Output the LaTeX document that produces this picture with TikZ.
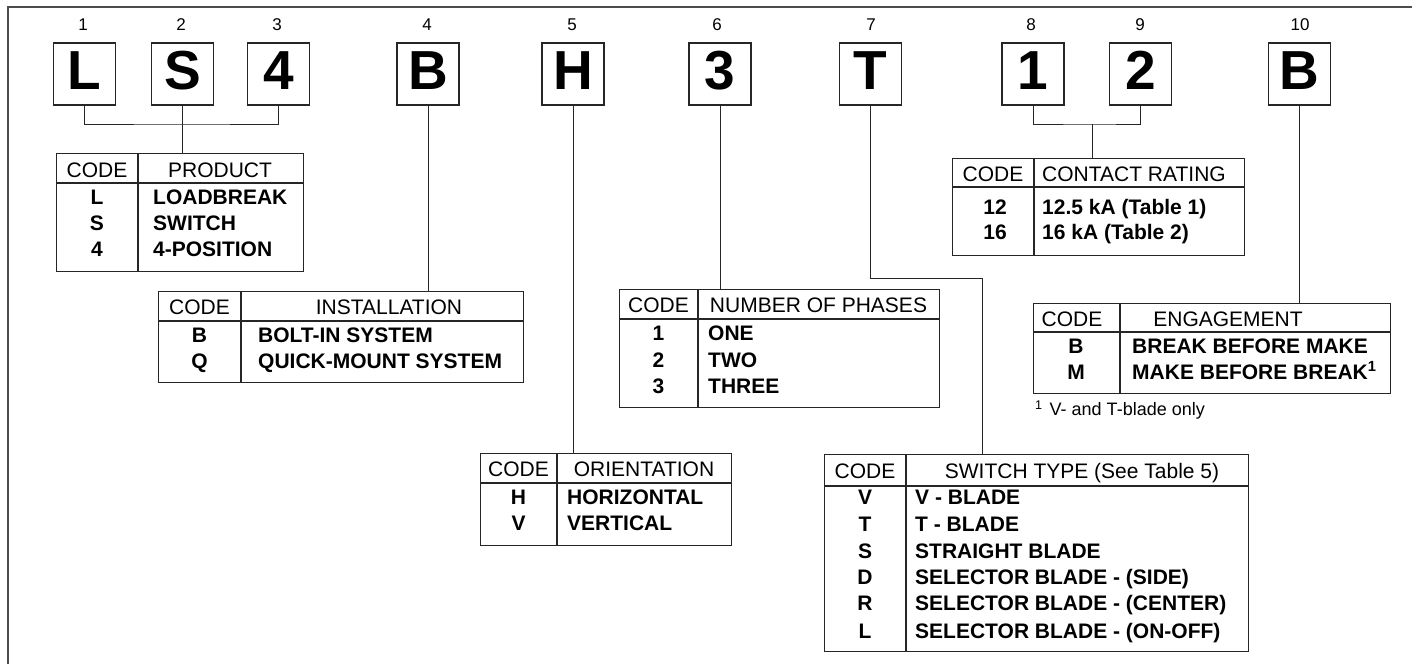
\documentclass[tikz,border=0pt]{standalone}
\usepackage{fontspec}
\setmainfont{Liberation Sans}
\begin{document}
\begin{tikzpicture}[x=1pt,y=-1pt,
 letterbox/.style={draw=black!85, line width=1.3pt, minimum width=62pt, minimum height=62pt, inner sep=0pt, font=\fontsize{55}{55}\selectfont\bfseries, text height=40pt, text depth=10pt},
 numlbl/.style={font=\fontsize{17}{17}\selectfont, inner sep=0pt, text height=12pt, text depth=0pt},
 tbl/.style={draw=black!85, line width=1.3pt, inner sep=0pt, anchor=north west},
 rule/.style={draw=black!85, line width=1.3pt},
 hdr/.style={font=\fontsize{21}{21}\selectfont, inner sep=0pt, text height=15pt, text depth=0pt},
 cell/.style={font=\fontsize{21}{21}\selectfont\bfseries, inner sep=0pt, text height=15pt, text depth=0pt},
 txt/.style={cell, anchor=west},
 foot/.style={font=\fontsize{18}{18}\selectfont, inner sep=0pt, text height=13pt, text depth=0pt, anchor=west},
 wire/.style={draw=black!85, line width=1pt},
 frame/.style={draw=black!70, line width=2pt}
]
\useasboundingbox (0,0) rectangle (1412,664);
% frame (top and left only)
\draw[frame] (8,664) -- (8,7) -- (1412,7);

% letter boxes
\node[letterbox] (bL) at (84.5,74) {L};
\node[letterbox] (bS) at (182.5,74) {S};
\node[letterbox] (b4) at (278.5,74) {4};
\node[letterbox] (bB) at (428,74) {B};
\node[letterbox] (bH) at (573,74) {H};
\node[letterbox] (b3) at (720,74) {3};
\node[letterbox] (bT) at (870.5,74) {T};
\node[letterbox] (b1) at (1033,74) {1};
\node[letterbox] (b2) at (1140.5,74) {2};
\node[letterbox] (bE) at (1299.5,74) {B};

% position numbers
\node[numlbl] (n1) at (83,24) {1};
\node[numlbl] (n2) at (181,24) {2};
\node[numlbl] (n3) at (277,24) {3};
\node[numlbl] (n4) at (427,24) {4};
\node[numlbl] (n5) at (572,24) {5};
\node[numlbl] (n6) at (717,24) {6};
\node[numlbl] (n7) at (871,24) {7};
\node[numlbl] (n8) at (1031,24) {8};
\node[numlbl] (n9) at (1140,24) {9};
\node[numlbl] (n10) at (1300,24) {10};

% ---- PRODUCT table
\node[tbl, minimum width=247pt, minimum height=118pt] (tprod) at (56,153) {};
\draw[rule] (56,183) -- (303,183);
\draw[rule] (138,153) -- (138,271);
\node[hdr] at (97,170) {CODE};
\node[hdr] at (220,170) {PRODUCT};
\node[cell] at (97,197) {L};
\node[cell] at (97,223) {S};
\node[cell] at (97,249) {4};
\node[txt] at (153,197) {LOADBREAK};
\node[txt] at (153,223) {SWITCH};
\node[txt] at (153,249) {4-POSITION};

% ---- INSTALLATION table
\node[tbl, minimum width=365pt, minimum height=91pt] (tinst) at (158,291) {};
\draw[rule] (158,321) -- (523,321);
\draw[rule] (241,291) -- (241,382);
\node[hdr] at (199.5,307) {CODE};
\node[hdr] at (389,307) {INSTALLATION};
\node[cell] at (199.5,335) {B};
\node[cell] at (199.5,361) {Q};
\node[txt] at (258,335) {BOLT-IN SYSTEM};
\node[txt] at (258,361) {QUICK-MOUNT SYSTEM};

% ---- ORIENTATION table
\node[tbl, minimum width=251pt, minimum height=92pt] (torient) at (480,453) {};
\draw[rule] (480,483) -- (731,483);
\draw[rule] (557,453) -- (557,545);
\node[hdr] at (518.5,469) {CODE};
\node[hdr] at (644,469) {ORIENTATION};
\node[cell] at (518.5,497) {H};
\node[cell] at (518.5,523) {V};
\node[txt] at (567,497) {HORIZONTAL};
\node[txt] at (567,523) {VERTICAL};

% ---- NUMBER OF PHASES table
\node[tbl, minimum width=320pt, minimum height=118pt] (tphase) at (619,289) {};
\draw[rule] (619,319) -- (939,319);
\draw[rule] (698,289) -- (698,407);
\node[hdr] at (658.5,305) {CODE};
\node[hdr] at (818.5,305) {NUMBER OF PHASES};
\node[cell] at (658.5,333) {1};
\node[cell] at (658.5,360) {2};
\node[cell] at (658.5,386) {3};
\node[txt] at (708,333) {ONE};
\node[txt] at (708,360) {TWO};
\node[txt] at (708,386) {THREE};

% ---- SWITCH TYPE table
\node[tbl, minimum width=424pt, minimum height=197pt] (tswitch) at (824,454) {};
\draw[rule] (824,486) -- (1248,486);
\draw[rule] (906,454) -- (906,651);
\node[hdr] at (865,471) {CODE};
\node[hdr] at (1082,471) {SWITCH TYPE (See Table 5)};
\node[cell] at (865,497) {V};
\node[cell] at (865,524) {T};
\node[cell] at (865,551) {S};
\node[cell] at (865,577) {D};
\node[cell] at (865,603) {R};
\node[cell] at (865,631) {L};
\node[txt] at (915,497) {V - BLADE};
\node[txt] at (915,524) {T - BLADE};
\node[txt] at (915,551) {STRAIGHT BLADE};
\node[txt] at (915,577) {SELECTOR BLADE - (SIDE)};
\node[txt] at (915,603) {SELECTOR BLADE - (CENTER)};
\node[txt] at (915,631) {SELECTOR BLADE - (ON-OFF)};

% ---- CONTACT RATING table
\node[tbl, minimum width=292pt, minimum height=97pt] (tcont) at (952,158) {};
\draw[rule] (952,187) -- (1244,187);
\draw[rule] (1034,158) -- (1034,255);
\node[hdr] at (993,174) {CODE};
\node[hdr, anchor=west] at (1042,174) {CONTACT RATING};
\node[cell] at (995,207) {12};
\node[cell] at (995,232) {16};
\node[txt] at (1042,207) {12.5 kA (Table 1)};
\node[txt] at (1042,232) {16 kA (Table 2)};

% ---- ENGAGEMENT table
\node[tbl, minimum width=357pt, minimum height=90pt] (teng) at (1033,303) {};
\draw[rule] (1033,332) -- (1390,332);
\draw[rule] (1120,303) -- (1120,393);
\node[hdr] at (1072,319) {CODE};
\node[hdr] at (1228,319) {ENGAGEMENT};
\node[cell] at (1076,346) {B};
\node[cell] at (1076,372) {M};
\node[txt] at (1132,346) {BREAK BEFORE MAKE};
\node[txt] at (1132,372) {MAKE BEFORE BREAK\textsuperscript{1}};
\node[foot] (fn) at (1035,409) {\textsuperscript{1}\hspace{7pt}V- and T-blade only};

% ---- connectors
\coordinate (j1) at (182.5,124);
\draw[wire] (bL.south) |- (j1) -| (b4.south);
\draw[wire] (bS.south) -- (bS.south |- tprod.north);
\draw[wire] (bB.south) -- (bB.south |- tinst.north);
\draw[wire] (bH.south) -- (bH.south |- torient.north);
\draw[wire] (b3.south) -- (b3.south |- tphase.north);
\coordinate (tb) at (982,278);
\draw[wire] (bT.south) |- (tb) -- (tb |- tswitch.north);
\coordinate (j2) at (1092,124);
\draw[wire] (b1.south) |- (j2) -| (b2.south);
\draw[wire] (j2) -- (j2 |- tcont.north);
\draw[wire] (bE.south) -- (bE.south |- teng.north);
\end{tikzpicture}
\end{document}
